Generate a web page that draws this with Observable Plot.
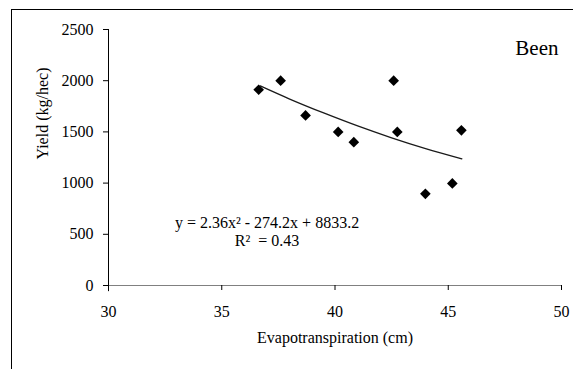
<!DOCTYPE html>
<html>
<head>
<meta charset="utf-8">
<script src="https://cdn.jsdelivr.net/npm/d3@7"></script>
<script src="https://cdn.jsdelivr.net/npm/@observablehq/plot@0.6"></script>
<style>
  html, body { margin: 0; padding: 0; background: #fff; }
  #wrap { position: relative; width: 573px; height: 369px; overflow: hidden; }
  #frame { position: absolute; left: 11px; top: 9px; width: 620px; height: 420px; border: 1.5px solid #000; pointer-events: none; }
  #chart { position: absolute; left: 0; top: 0; }
</style>
</head>
<body>
<div id="wrap"><div id="chart"></div><div id="frame"></div></div>
<script>
// Observed points
const evapo = [36.63, 37.60, 38.70, 40.14, 40.83, 42.59, 42.75, 43.99, 45.18, 45.58];
const yieldKg = [1912, 2000, 1661, 1500, 1400, 2000, 1500, 895, 997, 1515];

// Trend curve
const trendX = [36.7, 38.0, 39.5, 41.0, 42.5, 44.0, 45.6];
const trendY = [1949, 1821, 1685, 1558, 1442, 1337, 1237];

// Ticks and labels
const xTicks = [30, 35, 40, 45, 50];
const yTicks = [0, 500, 1000, 1500, 2000, 2500];
const xTitle = "Evapotranspiration (cm)";
const yTitle = "Yield (kg/hec)";
const panelLabel = "Been";
const equation = "y = 2.36x\u00B2 - 274.2x + 8833.2";
const rSquared = "R\u00B2  = 0.43";

const points = evapo.map((x, i) => ({x, y: yieldKg[i]}));
const trend = trendX.map((x, i) => ({x, y: trendY[i]}));

const serif = "'Liberation Serif', 'Times New Roman', serif";

const chart = Plot.plot({
  width: 573,
  height: 369,
  marginLeft: 108,
  marginRight: 12,
  marginTop: 29,
  marginBottom: 84,
  style: {fontFamily: serif, fontSize: "16px", background: "transparent", color: "#000"},
  x: {domain: [30, 50]},
  y: {domain: [0, 2500]},
  marks: [
    Plot.ruleY([0], {stroke: "#808080", strokeWidth: 1.2}),
    Plot.ruleX([30], {stroke: "#000", strokeWidth: 1, y1: -60, y2: 2500}),
    Plot.axisY(yTicks, {tickSize: 5, tickPadding: 10, label: null, fontSize: 16, stroke: "#000", tickFormat: d3.format("d")}),
    Plot.axisX(xTicks, {tickSize: 5, tickPadding: 15, label: null, fontSize: 16, stroke: "#000", tickFormat: d3.format("d")}),
    Plot.line(trend, {x: "x", y: "y", curve: "natural", stroke: "#1a1a1a", strokeWidth: 1.3}),
    Plot.dot(points, {x: "x", y: "y", symbol: "diamond2", r: 4.8, fill: "#000", stroke: "none"}),
    Plot.text([xTitle], {frameAnchor: "bottom", dy: 57, fontSize: 16, fill: "#000"}),
    Plot.text([yTitle], {frameAnchor: "left", dx: -66, dy: 2, rotate: -90, fontSize: 16, fill: "#000"}),
    Plot.text([panelLabel], {frameAnchor: "top-right", textAnchor: "end", dx: -3, dy: 11, fontSize: 21, fill: "#000"}),
    Plot.text([equation], {x: 37.0, y: 607, fontSize: 16, fill: "#000"}),
    Plot.text([rSquared], {x: 37.0, y: 433, fontSize: 16, fill: "#000"})
  ]
});
document.getElementById("chart").appendChild(chart);
</script>
</body>
</html>
